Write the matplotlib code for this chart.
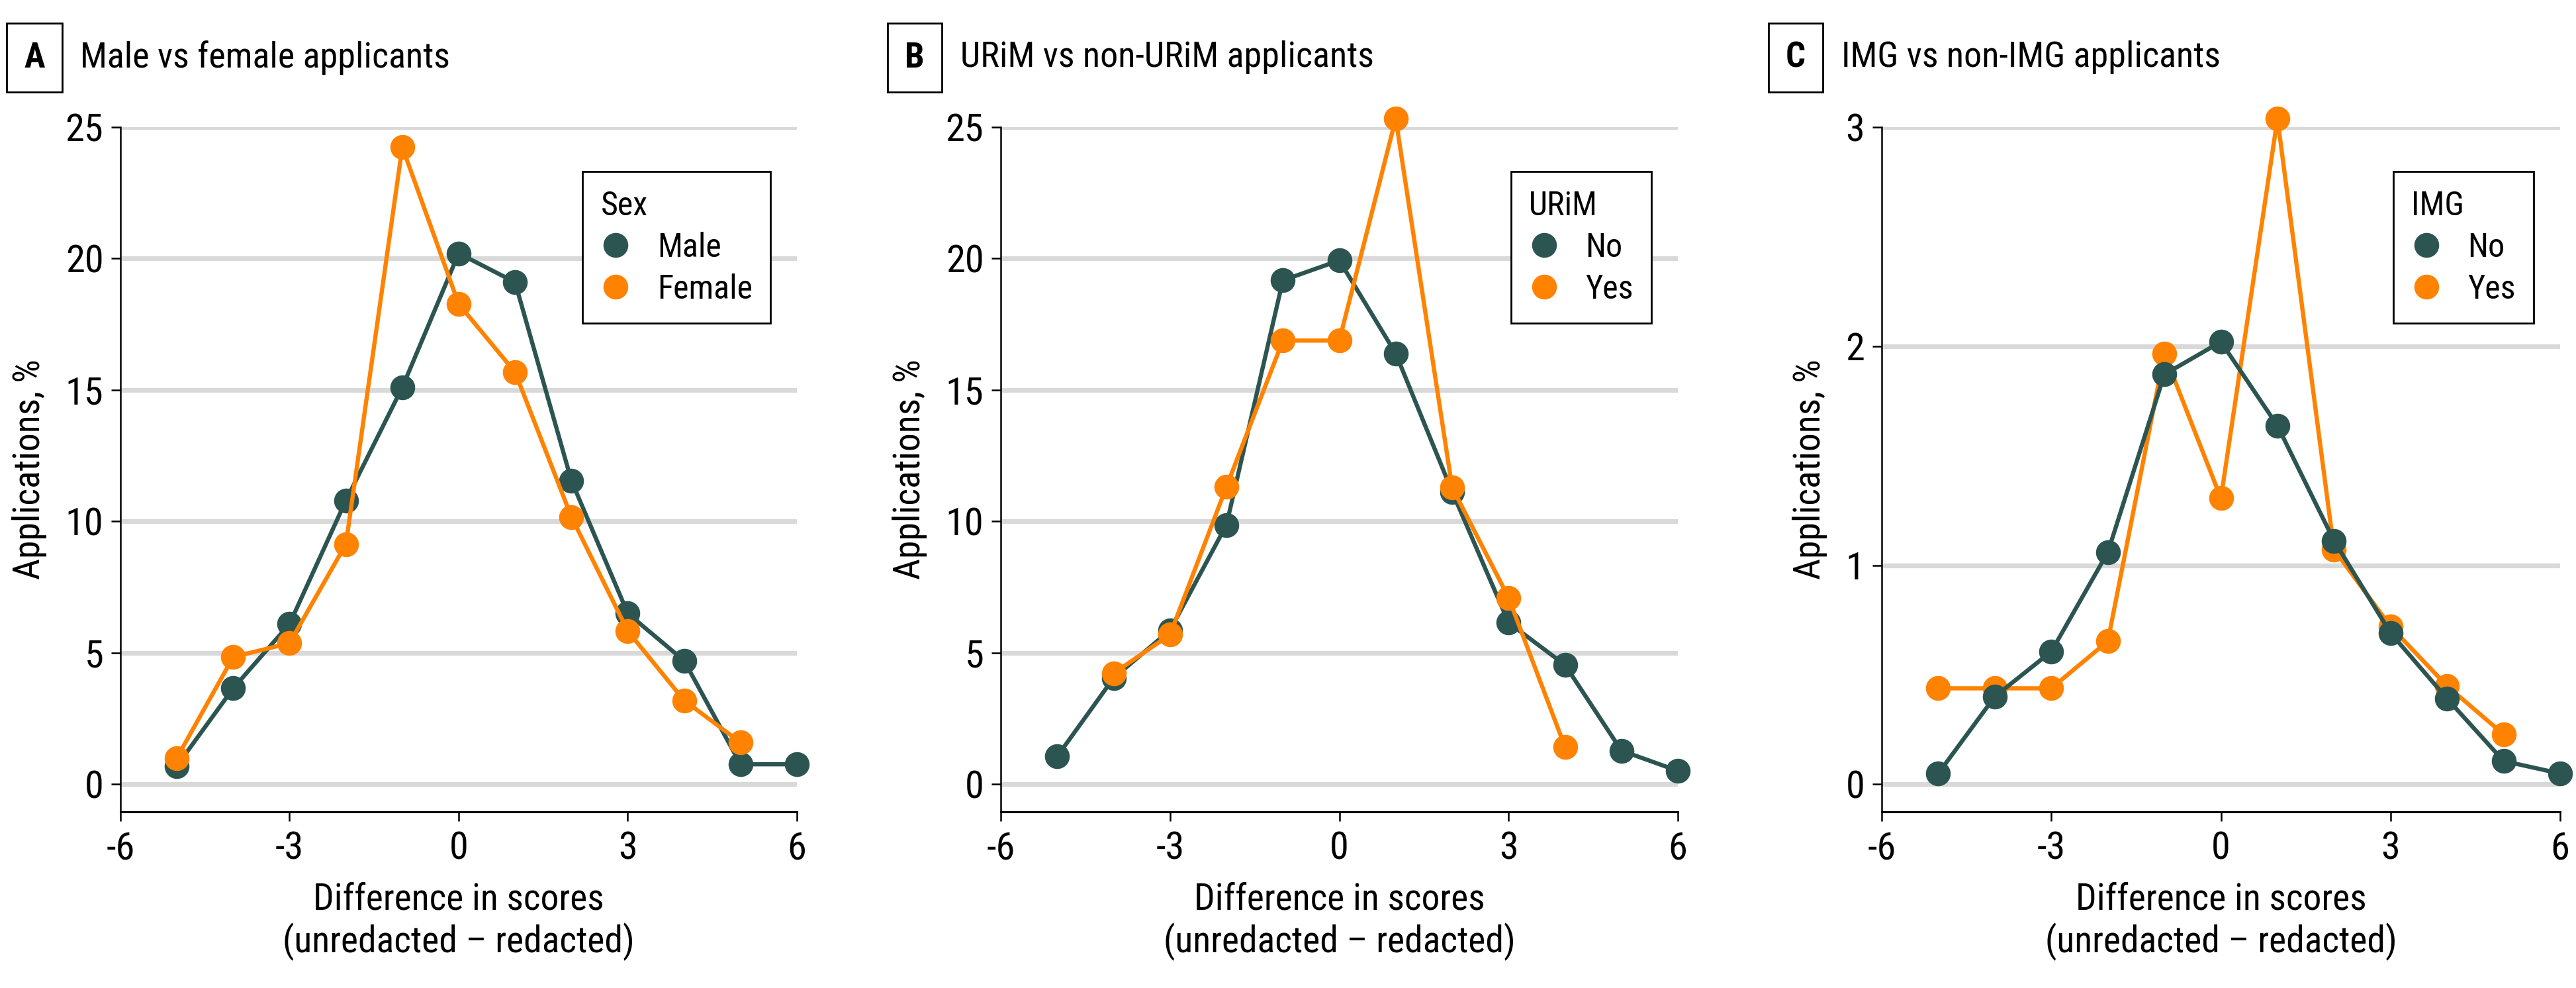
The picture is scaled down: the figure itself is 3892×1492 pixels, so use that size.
import matplotlib
matplotlib.use("Agg")
import matplotlib.pyplot as plt
from matplotlib import font_manager
from matplotlib.lines import Line2D

# pick a narrow font if one is installed
names = {f.name for f in font_manager.fontManager.ttflist}
for fam in ["Roboto Condensed", "Liberation Sans Narrow", "DejaVu Sans Condensed"]:
    if fam in names:
        plt.rcParams['font.family'] = [fam, 'DejaVu Sans']
        break
else:
    plt.rcParams['font.family'] = ['DejaVu Sans']
    plt.rcParams['font.stretch'] = 'condensed'
plt.rcParams['axes.unicode_minus'] = False

diff = [-5, -4, -3, -2, -1, 0, 1, 2, 3, 4, 5, 6]

# A: sex
male = [0.7, 3.65, 6.1, 10.8, 15.1, 20.2, 19.1, 11.55, 6.5, 4.7, 0.76, 0.76]
female_x = [-5, -4, -3, -2, -1, 0, 1, 2, 3, 4, 5]
female = [1.0, 4.84, 5.37, 9.14, 24.24, 18.27, 15.68, 10.17, 5.83, 3.19, 1.59]

# B: URiM
urim_no = [1.06, 4.04, 5.86, 9.87, 19.17, 19.93, 16.39, 11.13, 6.15, 4.54, 1.28, 0.51]
urim_yes_x = [-4, -3, -2, -1, 0, 1, 2, 3, 4]
urim_yes = [4.22, 5.69, 11.32, 16.88, 16.88, 25.32, 11.29, 7.1, 1.42]

# C: IMG
img_no = [0.049, 0.40, 0.606, 1.059, 1.871, 2.02, 1.637, 1.112, 0.691, 0.391, 0.106, 0.049]
img_yes_x = [-5, -4, -3, -2, -1, 0, 1, 2, 3, 4, 5]
img_yes = [0.438, 0.438, 0.438, 0.653, 1.965, 1.306, 3.039, 1.072, 0.72, 0.449, 0.228]

TEAL = '#2C5552'
ORANGE = '#FF8200'
GRID = '#D9D9D9'

W, H = 3892, 1492
fig = plt.figure(figsize=(W / 200, H / 200), dpi=200)

panels = [
    dict(letter='A', title='Male vs female applicants', left=182, right=1204,
         no=(diff, male), yes=(female_x, female), leg='Sex', labels=('Male', 'Female'),
         ylim=(-1.05, 25), yticks=[0, 5, 10, 15, 20, 25], orange_top=True),
    dict(letter='B', title='URiM vs non-URiM applicants', left=1512, right=2535,
         no=(diff, urim_no), yes=(urim_yes_x, urim_yes), leg='URiM', labels=('No', 'Yes'),
         ylim=(-1.05, 25), yticks=[0, 5, 10, 15, 20, 25], orange_top=True),
    dict(letter='C', title='IMG vs non-IMG applicants', left=2843, right=3868,
         no=(diff, img_no), yes=(img_yes_x, img_yes), leg='IMG', labels=('No', 'Yes'),
         ylim=(-0.126, 3), yticks=[0, 1, 2, 3], orange_top=False),
]

top_px, bot_px = 192, 1226
for p in panels:
    ax = fig.add_axes([p['left'] / W, 1 - bot_px / H, (p['right'] - p['left']) / W, (bot_px - top_px) / H])
    for y in p['yticks']:
        ax.axhline(y, color=GRID, lw=2.6, zorder=0)
    zt, zy = (2, 3) if p['orange_top'] else (3, 2)
    ax.plot(*p['no'], color=TEAL, lw=2.3, marker='o', ms=12.5, zorder=zt, clip_on=False)
    ax.plot(*p['yes'], color=ORANGE, lw=2.3, marker='o', ms=12.5, zorder=zy, clip_on=False)

    ax.set_xlim(-6, 6)
    ax.set_ylim(*p['ylim'])
    ax.set_xticks([-6, -3, 0, 3, 6])
    ax.set_yticks(p['yticks'])
    for s in ['top', 'right']:
        ax.spines[s].set_visible(False)
    ax.spines['left'].set_linewidth(0.9)
    ax.spines['bottom'].set_linewidth(1.1)
    ax.tick_params(axis='both', labelsize=21, width=0.9, length=5.2, pad=4)
    ax.tick_params(axis='x', pad=5)
    ax.set_ylabel('Applications, %', fontsize=20, labelpad=10)
    ax.set_xlabel('Difference in scores\n(unredacted – redacted)', fontsize=20, labelpad=8, linespacing=1.2)

    handles = [Line2D([], [], marker='o', ls='none', color=TEAL, ms=12.5),
               Line2D([], [], marker='o', ls='none', color=ORANGE, ms=12.5)]
    lg = ax.legend(handles, p['labels'], title=p['leg'], loc='upper right',
                   bbox_to_anchor=(0.961, 0.935), fontsize=18, title_fontsize=18,
                   frameon=True, fancybox=False, edgecolor='black', framealpha=1,
                   borderpad=0.55, handlelength=0.9, handletextpad=0.8, labelspacing=0.3,
                   alignment='left', borderaxespad=0)
    lg.get_frame().set_linewidth(1.0)

    fig.text((p['left'] - 130) / W, 1 - 87 / H, p['letter'], fontsize=19, fontweight='bold',
             ha='center', va='center',
             bbox=dict(boxstyle='square,pad=0.5', fc='white', ec='black', lw=1.0))
    fig.text((p['left'] - 61) / W, 1 - 87 / H, p['title'], fontsize=19.5, ha='left', va='center')

fig.savefig('out.png', dpi=200)
